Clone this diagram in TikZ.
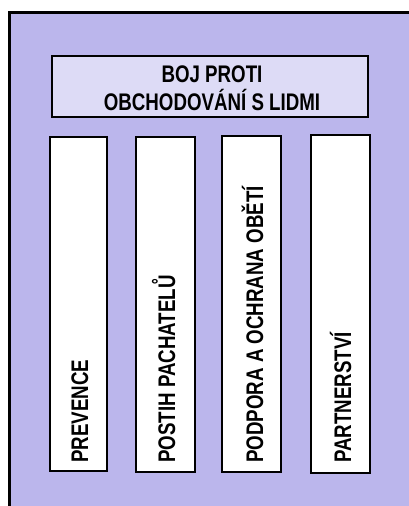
\documentclass[tikz,border=0pt]{standalone}
\usepackage{fontspec}
\setmainfont{Liberation Sans}[FakeStretch=0.78]
\definecolor{bgcol}{RGB}{187,182,236}
\definecolor{titlecol}{RGB}{221,219,246}
\tikzset{
  frame/.style={draw=black, line width=3pt, fill=bgcol},
  titlebox/.style={draw=black, line width=2pt, fill=titlecol, inner sep=0pt},
  colbox/.style={draw=black, line width=2pt, fill=white, inner sep=0pt},
  coltext/.style={rotate=90, anchor=base west, inner sep=0pt, font=\fontsize{24}{28}\selectfont\bfseries},
  titletext/.style={anchor=base, inner sep=0pt, font=\fontsize{24}{28}\selectfont\bfseries}
}
\begin{document}
\begin{tikzpicture}[x=1pt,y=-1pt]
\useasboundingbox (0,0) rectangle (409,506);
\clip (0,0) rectangle (409,506);
\fill[white] (0,0) rectangle (409,506);
\draw[frame] (9.5,12.5) rectangle (430,530);
\node[titlebox, minimum width=316pt, minimum height=61pt] (title) at (210,86.5) {};
\node[titletext] (t1) at (212,82) {BOJ PROTI};
\node[titletext] (t2) at (212,110) {OBCHODOVÁNÍ S LIDMI};
\node[colbox, minimum width=57pt, minimum height=334pt] (c1) at (78.5,304) {};
\node[colbox, minimum width=59pt, minimum height=335pt] (c2) at (165.5,304.5) {};
\node[colbox, minimum width=59pt, minimum height=336pt] (c3) at (251.5,304) {};
\node[colbox, minimum width=59pt, minimum height=338pt] (c4) at (340.5,304) {};
\node[coltext] (l1) at (88,463) {PREVENCE};
\node[coltext] (l2) at (175,463) {POSTIH PACHATELŮ};
\node[coltext] (l3) at (263,463) {PODPORA A OCHRANA OBĚTÍ};
\node[coltext] (l4) at (351,463) {PARTNERSTVÍ};
\end{tikzpicture}
\end{document}
